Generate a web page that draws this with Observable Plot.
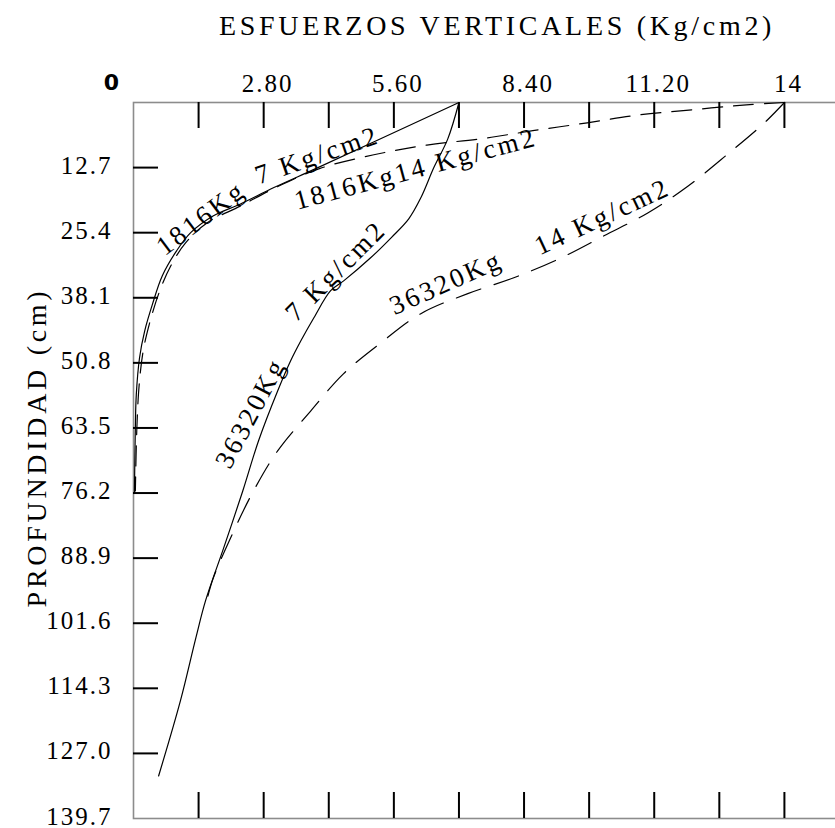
<!DOCTYPE html>
<html><head><meta charset="utf-8">
<script src="https://cdn.jsdelivr.net/npm/d3@7"></script>
<script src="https://cdn.jsdelivr.net/npm/@observablehq/plot@0.6"></script>
<style>
html,body{margin:0;padding:0;background:#fff;overflow:hidden;}
#title{position:relative;height:60px;width:835px;}
#title span{position:absolute;left:497px;top:12px;transform:translateX(-50%);font-family:"Liberation Serif",serif;font-size:28px;letter-spacing:3.7px;white-space:nowrap;line-height:28px;color:#000}
#chart{width:849px;}
</style></head><body>
<div id="title"><span>ESFUERZOS VERTICALES (Kg/cm2)</span></div>
<div id="chart"></div>
<script>
// axis ticks and labels
const xTicks = [1.4, 2.8, 4.2, 5.6, 7.0, 8.4, 9.8, 11.2, 12.6, 14.0];
const xLabelValues = [2.8, 5.6, 8.4, 11.2, 14];
const xLabelTexts = ["2.80", "5.60", "8.40", "11.20", "14"];
const depthTicks = [12.7, 25.4, 38.1, 50.8, 63.5, 76.2, 88.9, 101.6, 114.3, 127.0];
const depthLabelValues = [12.7, 25.4, 38.1, 50.8, 63.5, 76.2, 88.9, 101.6, 114.3, 127.0, 139.7];
const depthLabelTexts = ["12.7", "25.4", "38.1", "50.8", "63.5", "76.2", "88.9", "101.6", "114.3", "127.0", "139.7"];

// 1816 Kg, 7 Kg/cm2 (solid)
const a1816_7_stress = [7.0, 5.21, 3.92, 3.02, 2.30, 1.72, 1.23, 0.93, 0.62, 0.41, 0.24, 0.13, 0.06, 0.04, 0.02];
const a1816_7_depth  = [0, 7.5, 12.9, 16.6, 19.8, 22.1, 25.4, 28.9, 33.8, 39.3, 44.6, 49.8, 57.0, 63.3, 76.2];
// 1816 Kg, 14 Kg/cm2 (dashed)
const b1816_14_stress = [14.0, 13.18, 12.04, 10.9, 9.76, 8.59, 7.45, 6.31, 5.17, 4.0, 3.08, 2.3, 1.58, 1.12, 0.8, 0.55, 0.36, 0.21, 0.12, 0.07, 0.04];
const b1816_14_depth  = [0, 0.45, 1.4, 2.4, 3.96, 5.5, 7.1, 8.3, 10.2, 12.9, 16.5, 20.2, 23.5, 27.4, 31.9, 37.1, 42.6, 48.4, 55.3, 64.1, 75.8];
// 36320 Kg, 7 Kg/cm2 (solid)
const c36320_7_stress = [7.0, 6.76, 6.46, 6.18, 5.92, 5.54, 5.10, 4.52, 4.24, 3.88, 3.60, 3.38, 3.10, 2.69, 2.35, 1.94, 1.55, 1.34, 1.01, 0.54];
const c36320_7_depth  = [0, 7.1, 12.7, 18.6, 22.7, 26.4, 30.3, 34.8, 36.7, 42.0, 46.5, 50.4, 56.3, 66.0, 75.8, 86.9, 97.2, 104.5, 116.7, 131.4];
// 36320 Kg, 14 Kg/cm2 (dashed)
const d36320_14_stress = [14.0, 13.57, 12.79, 11.93, 11.07, 10.12, 9.20, 8.18, 7.19, 6.18, 5.32, 4.52, 3.81, 3.10, 2.58, 2.09, 1.72, 1.60];
const d36320_14_depth  = [0, 3.96, 10.0, 16.3, 21.5, 26.0, 30.3, 34.2, 37.3, 41.2, 46.9, 52.9, 60.2, 67.97, 75.8, 84.9, 92.7, 96.3];

// curve annotations
const labelTexts  = ["1816Kg", "7 Kg/cm2", "1816Kg14 Kg/cm2", "7 Kg/cm2", "36320Kg", "36320Kg", "14 Kg/cm2"];
const labelStress = [1.45, 3.95, 6.07, 4.35, 2.52, 6.72, 10.08];
const labelDepth  = [22.6, 10.3, 13.0, 32.9, 60.6, 35.2, 22.3];
const labelAngle  = [-37, -19, -15, -45, -62, -24, -25];

const toRows = (xs, ys) => xs.map((x, i) => ({stress: x, depth: ys[i]}));
const curveA = toRows(a1816_7_stress, a1816_7_depth);
const curveB = toRows(b1816_14_stress, b1816_14_depth);
const curveC = toRows(c36320_7_stress, c36320_7_depth);
const curveD = toRows(d36320_14_stress, d36320_14_depth);
const labels = labelTexts.map((t, i) => ({text: t, stress: labelStress[i], depth: labelDepth[i], angle: labelAngle[i]}));
const xLabels = xLabelValues.map((v, i) => ({v, t: xLabelTexts[i]}));
const yLabels = depthLabelValues.map((v, i) => ({v, t: depthLabelTexts[i]}));

const W = 849, H = 768, MT = 42, MB = 10, ML = 133, MR = 0;
const FH = H - MT - MB;
const TICK = 26;
const serif = "Liberation Serif";

const chart = Plot.plot({
  width: W, height: H,
  marginTop: MT, marginBottom: MB, marginLeft: ML, marginRight: MR,
  style: {fontFamily: serif, background: "#fff", color: "#000", overflow: "visible"},
  x: {domain: [0, 15.4], axis: null},
  y: {domain: [0, 139.7], reverse: true, axis: null},
  marks: [
    Plot.frame({stroke: "#8c8c8c", strokeWidth: 1.6}),
    Plot.tickX(xTicks, {x: d => d, insetBottom: FH - TICK, stroke: "#000", strokeWidth: 2}),
    Plot.tickX(xTicks, {x: d => d, insetTop: FH - TICK, stroke: "#000", strokeWidth: 2}),
    Plot.tickY(depthTicks, {y: d => d, insetRight: (W - ML - MR) - 25, stroke: "#000", strokeWidth: 2}),
    Plot.line(curveA, {x: "stress", y: "depth", stroke: "#000", strokeWidth: 1.2, curve: "catmull-rom"}),
    Plot.line(curveB, {x: "stress", y: "depth", stroke: "#000", strokeWidth: 1.2, strokeDasharray: "20,11", curve: "catmull-rom"}),
    Plot.line(curveC, {x: "stress", y: "depth", stroke: "#000", strokeWidth: 1.2, curve: "catmull-rom"}),
    Plot.line(curveD, {x: "stress", y: "depth", stroke: "#000", strokeWidth: 1.2, strokeDasharray: "26,14", curve: "catmull-rom"}),
    Plot.text(labels, {x: "stress", y: "depth", text: "text", rotate: "angle", fontSize: 27, fontFamily: serif, fill: "#000", textAnchor: "middle", lineAnchor: "middle", ariaLabel: "curve-labels"}),
    Plot.text(xLabels, {x: "v", text: "t", frameAnchor: "top", textAnchor: "middle", lineAnchor: "middle", dy: -19, dx: 4, fontSize: 25, fontFamily: serif, fill: "#000", ariaLabel: "x-labels"}),
    Plot.text(yLabels, {y: "v", text: "t", frameAnchor: "left", textAnchor: "end", lineAnchor: "middle", dx: -21, dy: -2, fontSize: 25, fontFamily: serif, fill: "#000", ariaLabel: "y-labels"}),
    Plot.text(["0"], {text: d => d, frameAnchor: "top-left", textAnchor: "middle", lineAnchor: "middle", dx: -22, dy: -20, fontSize: 22, fontWeight: "bold", fontFamily: "DejaVu Sans", fill: "#000", ariaLabel: "origin"}),
    Plot.text(["PROFUNDIDAD (cm)"], {text: d => d, frameAnchor: "left", rotate: -90, textAnchor: "middle", lineAnchor: "middle", dx: -96, dy: -13, fontSize: 28, fontFamily: serif, fill: "#000", ariaLabel: "y-title"})
  ]
});
chart.style.maxWidth = "none";
const sel = d3.select(chart);
const spacing = new Map([
  ...labelTexts.map(t => [t, "2.8px"]),
  ...xLabelTexts.map(t => [t, "2px"]),
  ...depthLabelTexts.map(t => [t, "2px"]),
  ["PROFUNDIDAD (cm)", "3.7px"]
]);
sel.selectAll("text").each(function() {
  const s = spacing.get(this.textContent);
  if (s) { this.style.letterSpacing = s; this.setAttribute("letter-spacing", s); }
});
document.getElementById("chart").appendChild(chart);
</script>
</body></html>
